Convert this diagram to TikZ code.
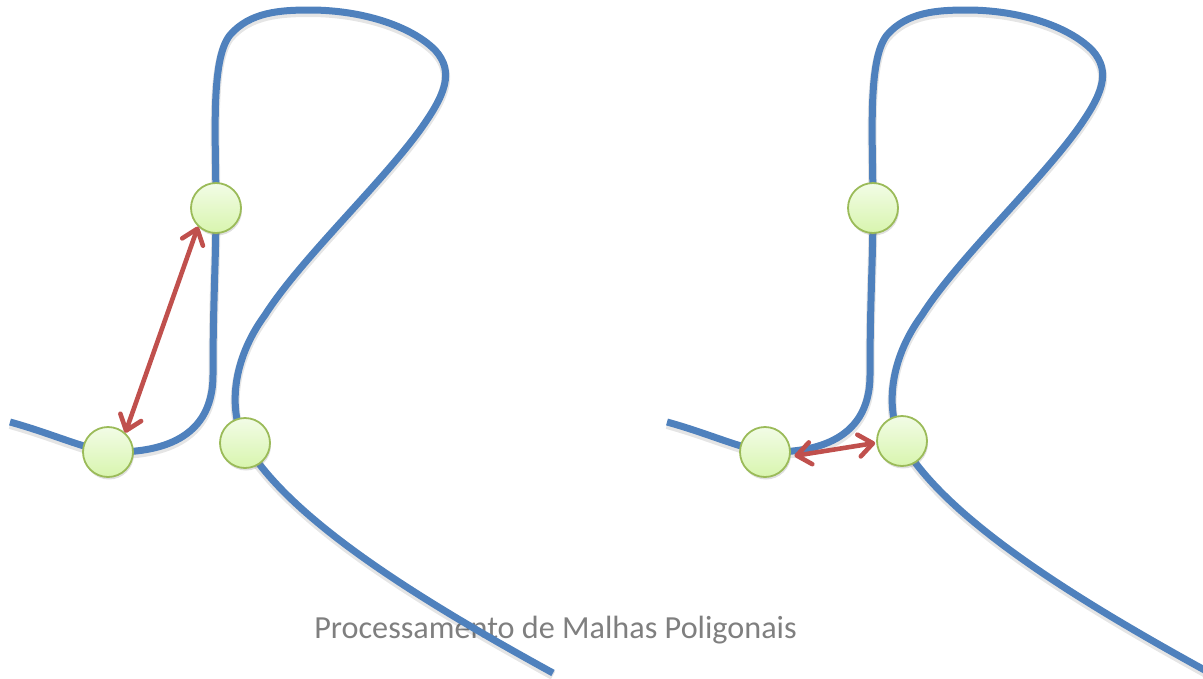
\documentclass[tikz,border=0pt]{standalone}
\usepackage{fontspec}
\newfontfamily\calib{Carlito}
\usetikzlibrary{arrows.meta,shadows}
\definecolor{curveblue}{HTML}{4F81BD}
\definecolor{arrowred}{HTML}{C0504D}
\definecolor{ringgreen}{HTML}{9BBB59}
\definecolor{filltop}{HTML}{F2FCE6}
\definecolor{fillbot}{HTML}{D8F5AE}
\definecolor{titlegray}{HTML}{7F7F7F}
\def\mycurve{(10,422) .. controls (50,433) and (80,447) .. (108,452)
  .. controls (150,453) and (213,445) .. (213,375)
  .. controls (213,300) and (216,260) .. (216,208)
  .. controls (216,140) and (210,60) .. (230,35)
  .. controls (250,12) and (280,10) .. (310,10)
  .. controls (360,10) and (410,25) .. (435,50)
  .. controls (455,72) and (445,95) .. (420,130)
  .. controls (380,185) and (300,260) .. (265,315)
  .. controls (232,360) and (228,410) .. (245,443)
  .. controls (290,520) and (420,600) .. (553,673)}
\tikzset{
  curve/.style={draw=curveblue, line width=7pt, line cap=butt},
  curveshadow/.style={draw=black, opacity=0.10, line width=9pt},
  vertex/.style={circle, minimum size=50pt, inner sep=0pt, draw=ringgreen, line width=1.8pt,
    top color=filltop, bottom color=fillbot,
    drop shadow={opacity=0.25, shadow xshift=1pt, shadow yshift=-2.5pt}},
  dist/.style={draw=arrowred, line width=4.6pt, {Straight Barb[round,length=14pt,width=22pt]}-{Straight Barb[round,length=14pt,width=22pt]}},
  title/.style={font=\calib\fontsize{32.2}{36}\selectfont, anchor=base, inner sep=0pt}
}
\begin{document}
\begin{tikzpicture}[x=1pt,y=-1pt]
\useasboundingbox (0,0) rectangle (1203,678);
% title
\node[title, text=titlegray] (title) at (555.5,638) {Processamento de Malhas Poligonais};
% curves
\begin{scope}[yshift=-2.5pt]
  \draw[curveshadow] \mycurve;
  \begin{scope}[xshift=657pt]\draw[curveshadow] \mycurve;\end{scope}
\end{scope}
\draw[curve] \mycurve;
\begin{scope}[xshift=657pt]\draw[curve] \mycurve;\end{scope}
% vertices left
\node[vertex] (LB) at (108,452) {};
\node[vertex] (LT) at (216,208) {};
\node[vertex] (LR) at (245,443) {};
% vertices right
\node[vertex] (RB) at (765,452) {};
\node[vertex] (RT) at (873,208) {};
\node[vertex] (RR) at (902,441) {};
% distances
\draw[dist] (LB.48) -- (LT.226);
\draw[dist, shorten <=4pt, shorten >=1pt] (RB.-10) -- (RR.184);
\end{tikzpicture}
\end{document}
